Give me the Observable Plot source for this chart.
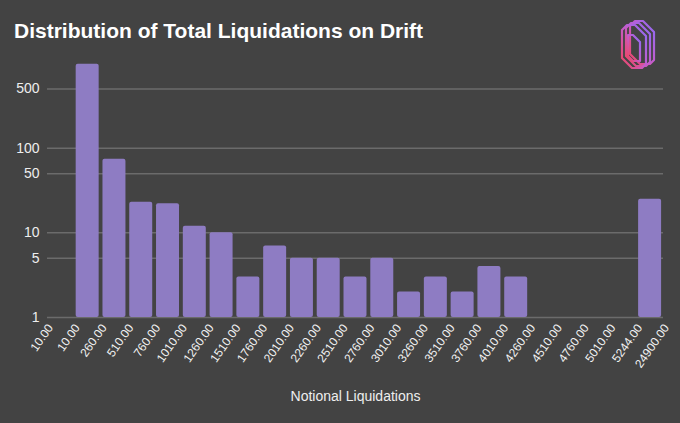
<!DOCTYPE html>
<html>
<head>
<meta charset="utf-8">
<script src="https://cdn.jsdelivr.net/npm/d3@7"></script>
<script src="https://cdn.jsdelivr.net/npm/@observablehq/plot@0.6"></script>
<style>
  html, body { margin: 0; padding: 0; background: #434343; }
  #wrap { position: relative; width: 680px; height: 423px; overflow: hidden; background: #434343; }
  #title { position: absolute; left: 14px; top: 19.5px; font: bold 21px/21px "Liberation Sans", Arial, sans-serif; color: #ffffff; white-space: nowrap; }
  #logo { position: absolute; left: 614px; top: 18px; }
  #chart { position: absolute; left: 0; top: 0; }
</style>
</head>
<body>
<div id="wrap">
  <div id="chart"></div>
  <div id="title">Distribution of Total Liquidations on Drift</div>
  <svg id="logo" width="46" height="54" viewBox="0 0 46 54">
    <defs>
      <linearGradient id="lg" x1="0" y1="1" x2="1" y2="0">
        <stop offset="0" stop-color="#f0455f"/>
        <stop offset="0.5" stop-color="#c45ccc"/>
        <stop offset="1" stop-color="#8c6cf7"/>
      </linearGradient>
    </defs>
    <g fill="none" stroke="url(#lg)" stroke-width="2.2" stroke-linejoin="round">
      <path transform="translate(12,0)" d="M4,8 L9,3 L17,3 L28,14 L28,42 L24,46 L14,46 L4,36 Z"/>
      <path transform="translate(8,2)" d="M4,8 L9,3 L17,3 L28,14 L28,42 L24,46 L14,46 L4,36 Z"/>
      <path transform="translate(4,4)" d="M4,8 L9,3 L17,3 L28,14 L28,42 L24,46 L14,46 L4,36 Z"/>
      <path transform="translate(4,4)" d="M10,13 L15,13 L22,20 L22,39 L15,39 L10,34 Z"/>
    </g>
  </svg>
</div>
<script>
// Bucket boundary labels (x axis)
const boundaries = ["10.00","10.00","260.00","510.00","760.00","1010.00","1260.00","1510.00","1760.00","2010.00","2260.00","2510.00","2760.00","3010.00","3260.00","3510.00","3760.00","4010.00","4260.00","4510.00","4760.00","5010.00","5244.00","24900.00"];
// Count of liquidations per bucket (bucket k lies between boundary k and k+1)
const counts = [null, 980, 74, 23, 22, 12, 10, 3, 7, 5, 5, 3, 5, 2, 3, 2, 4, 3, null, null, null, null, 25];
// Y axis ticks
const yTicks = [1, 5, 10, 50, 100, 500];

const data = counts.map((c, i) => ({i, c})).filter(d => d.c != null);

const chart = Plot.plot({
  width: 680,
  height: 423,
  marginTop: 63,
  marginBottom: 106,
  marginLeft: 47,
  marginRight: 17,
  style: {background: "transparent", color: "#eeeeee", fontFamily: "'Liberation Sans', Arial, sans-serif", overflow: "visible"},
  x: {type: "linear", domain: [0, boundaries.length - 1], axis: null},
  y: {type: "log", domain: [1, 1000], axis: null},
  marks: [
    Plot.gridY(yTicks, {stroke: "#6b6b6b", strokeOpacity: 1, strokeWidth: 1.5}),
    Plot.rectY(data, {x1: "i", x2: d => d.i + 1, y1: 1, y2: "c", fill: "#8e7cc3", insetLeft: 1.9, insetRight: 1.9, rx: 2}),
    Plot.text(yTicks, {y: d => d, frameAnchor: "left", textAnchor: "end", dx: -8, fontSize: 14, text: d => String(d), fill: "#eeeeee"}),
    Plot.axisX(d3.range(boundaries.length), {tickSize: 0, tickPadding: 6, tickRotate: -55, tickFormat: i => boundaries[i], fontSize: 12, label: null, fill: "#f2f2f2", dx: 3, dy: 2}),
    Plot.text(["Notional Liquidations"], {frameAnchor: "bottom", dy: 83, lineAnchor: "bottom", fontSize: 14, fill: "#eeeeee"})
  ]
});
document.getElementById("chart").appendChild(chart);
</script>
</body>
</html>
